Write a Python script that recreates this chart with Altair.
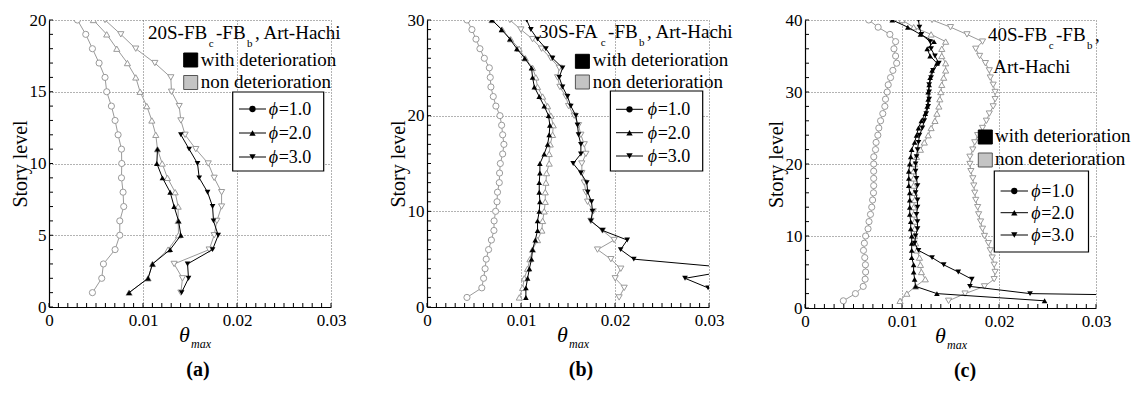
import altair as alt
import pandas as pd

FONT = "Liberation Serif"
GRAY = "#9a9a9a"

# ---- shared x axis (drift ratio) ----
x_labels = [0, 0.01, 0.02, 0.03]
x_minor = [round(i * 0.001, 3) for i in range(31)]
phi_names = ["1.0", "2.0", "3.0"]
phi_shapes = ["circle", "triangle-up", "triangle-down"]

# ---- (a) 20-story frame, values listed from story 1 upward ----
a_story = list(range(1, 21))
a_y_labels = [0, 5, 10, 15, 20]
a_y_minor = list(range(0, 21))
a_phi1 = [0.00462, 0.00561, 0.00579, 0.00703, 0.00753, 0.00753, 0.00795, 0.00788, 0.00771, 0.00774,
          0.00771, 0.00735, 0.00703, 0.00664, 0.00614, 0.00596, 0.00533, 0.00462, 0.00391, 0.00302]
a_phi2_non = [0.00852, 0.01054, 0.01101, 0.01267, 0.01378, 0.01374, 0.01374, 0.01342, 0.01260, 0.01204,
              0.01154, 0.01136, 0.01094, 0.01040, 0.00969, 0.00923, 0.00834, 0.00721, 0.00614, 0.00472]
a_phi2_det = [0.00852, 0.01054, 0.01101, 0.01289, 0.01403, 0.01378, 0.01331, 0.01289, 0.01207, 0.01147,
              0.01154]
a_phi3_non = [0.01403, 0.01420, 0.01331, 0.01704, 0.01757, 0.01786, 0.01836, 0.01836, 0.01757, 0.01694,
              0.01562, 0.01448, 0.01403, 0.01385, 0.01303, 0.01296, 0.01126, 0.00923, 0.00764, 0.00596]
a_phi3_det = [0.01410, 0.01484, 0.01474, 0.01740, 0.01800, 0.01750, 0.01740, 0.01687, 0.01598, 0.01580,
              0.01491, 0.01403]

# ---- (b) 30-story frame ----
b_story = list(range(1, 31))
b_y_labels = [0, 10, 20, 30]
b_y_minor = list(range(0, 31))
b_phi1 = [0.00425, 0.00583, 0.00602, 0.00618, 0.00630, 0.00655, 0.00685, 0.00712, 0.00714, 0.00730,
          0.00745, 0.00750, 0.00769, 0.00772, 0.00780, 0.00805, 0.00818, 0.00805, 0.00794, 0.00776,
          0.00733, 0.00705, 0.00680, 0.00673, 0.00663, 0.00610, 0.00563, 0.00521, 0.00478, 0.00425]
b_phi2_non = [0.00982, 0.01017, 0.01035, 0.01070, 0.01095, 0.01123, 0.01176, 0.01222, 0.01230, 0.01247,
              0.01258, 0.01258, 0.01265, 0.01272, 0.01300, 0.01300, 0.01311, 0.01336, 0.01343, 0.01318,
              0.01283, 0.01230, 0.01176, 0.01158, 0.01123, 0.01046, 0.00980, 0.00890, 0.00800, 0.00691]
b_phi2_det = [0.01052, 0.01052, 0.01070, 0.01089, 0.01112, 0.01123, 0.01152, 0.01176, 0.01176, 0.01194,
              0.01201, 0.01194, 0.01194, 0.01201, 0.01201, 0.01247, 0.01283, 0.01300, 0.01307, 0.01293,
              0.01247, 0.01194, 0.01142, 0.01123, 0.01112, 0.01040, 0.00956, 0.00882, 0.00794, 0.00691]
b_phi3_non = [0.02044, 0.02098, 0.02002, 0.02062, 0.01956, 0.01814, 0.01991, 0.01867, 0.01743, 0.01768,
              0.01708, 0.01690, 0.01673, 0.01648, 0.01647, 0.01690, 0.01673, 0.01637, 0.01612, 0.01566,
              0.01506, 0.01478, 0.01414, 0.01389, 0.01407, 0.01318, 0.01219, 0.01123, 0.00999, 0.00882]
b_phi3_det = [0.03400, 0.02990, 0.02745, 0.03340, 0.02200, 0.02060, 0.02130, 0.01867, 0.01743, 0.01761,
              0.01750, 0.01710, 0.01700, 0.01637, 0.01555, 0.01637, 0.01637, 0.01612, 0.01601, 0.01584,
              0.01530, 0.01495, 0.01442, 0.01407, 0.01442, 0.01336, 0.01265, 0.01176, 0.01105, 0.01060]

# ---- (c) 40-story frame ----
c_story = list(range(1, 41))
c_y_labels = [0, 10, 20, 30, 40]
c_y_minor = list(range(0, 41, 2))
c_phi1 = [0.00395, 0.00520, 0.00600, 0.00620, 0.00625, 0.00623, 0.00616, 0.00603, 0.00612, 0.00625,
          0.00650, 0.00660, 0.00675, 0.00688, 0.00697, 0.00706, 0.00708, 0.00708, 0.00708, 0.00708,
          0.00709, 0.00727, 0.00733, 0.00751, 0.00761, 0.00779, 0.00802, 0.00823, 0.00830, 0.00847,
          0.00858, 0.00882, 0.00906, 0.00945, 0.00934, 0.00917, 0.00934, 0.00875, 0.00754, 0.00657]
c_phi2_non = [0.00980, 0.01050, 0.01140, 0.01240, 0.01200, 0.01190, 0.01180, 0.01155, 0.01140, 0.01130,
              0.01130, 0.01130, 0.01120, 0.01120, 0.01130, 0.01130, 0.01120, 0.01120, 0.01120, 0.01130,
              0.01150, 0.01190, 0.01230, 0.01270, 0.01300, 0.01340, 0.01360, 0.01380, 0.01390, 0.01400,
              0.01410, 0.01430, 0.01450, 0.01450, 0.01410, 0.01410, 0.01450, 0.01300, 0.01120, 0.01000]
c_phi2_det = [0.02470, 0.01360, 0.01140, 0.01130, 0.01120, 0.01120, 0.01100, 0.01100, 0.01100, 0.01100,
              0.01090, 0.01090, 0.01080, 0.01080, 0.01080, 0.01080, 0.01070, 0.01070, 0.01070, 0.01080,
              0.01090, 0.01100, 0.01130, 0.01150, 0.01170, 0.01200, 0.01240, 0.01260, 0.01270, 0.01270,
              0.01280, 0.01290, 0.01310, 0.01360, 0.01290, 0.01260, 0.01330, 0.01190, 0.01060, 0.00900]
c_phi3_non = [0.01480, 0.01650, 0.01850, 0.01950, 0.01960, 0.01950, 0.01930, 0.01910, 0.01890, 0.01850,
              0.01830, 0.01810, 0.01790, 0.01780, 0.01760, 0.01750, 0.01740, 0.01730, 0.01710, 0.01700,
              0.01700, 0.01730, 0.01750, 0.01780, 0.01830, 0.01870, 0.01900, 0.01940, 0.01960, 0.01960,
              0.01940, 0.01910, 0.01900, 0.01860, 0.01800, 0.01760, 0.01830, 0.01670, 0.01500, 0.01310]
c_phi3_det = [0.07500, 0.02320, 0.01700, 0.01720, 0.01580, 0.01430, 0.01310, 0.01170, 0.01130, 0.01140,
              0.01160, 0.01160, 0.01150, 0.01160, 0.01160, 0.01140, 0.01160, 0.01150, 0.01140, 0.01140,
              0.01150, 0.01160, 0.01170, 0.01180, 0.01210, 0.01230, 0.01250, 0.01270, 0.01280, 0.01280,
              0.01280, 0.01300, 0.01320, 0.01380, 0.01340, 0.01300, 0.01290, 0.01200, 0.01180, 0.01170]


def long_table(stories, series):
    frames = []
    for phi, vals in series:
        frames.append(pd.DataFrame({"story": stories[:len(vals)], "theta": vals, "phi": phi}))
    return pd.concat(frames, ignore_index=True)


def text(s, x, y, size=19, style="normal", weight="normal", align="left"):
    return alt.Chart(pd.DataFrame({"txt": [s]})).mark_text(
        align=align, baseline="alphabetic", font=FONT, fontSize=size,
        fontStyle=style, fontWeight=weight, color="black",
    ).encode(text="txt:N", x=alt.value(x), y=alt.value(y))


def box(x1, x2, y1, y2, fill, stroke, sw=1):
    return alt.Chart(pd.DataFrame({"k": [0]})).mark_rect(
        fill=fill, stroke=stroke, strokeWidth=sw
    ).encode(x=alt.value(x1), x2=alt.value(x2), y=alt.value(y1), y2=alt.value(y2))


TIMES_W = {
    "0": .5, "1": .5, "2": .5, "3": .5, "4": .5, "S": .556, "-": .333, "F": .556, "B": .667,
    "A": .722, "c": .444, "b": .5, ",": .25, " ": .25, "r": .333, "t": .278, "H": .722,
    "a": .444, "h": .5, "i": .278,
}


def widths(s):
    return sum(TIMES_W.get(ch, .5) for ch in s)


def code_label(name_parts, x, y):
    # main text pieces with their subscripts, laid out left to right
    layers = []
    cx = x
    for part, sub in name_parts:
        size = 11 if sub else 19
        dy = 8 if sub else 0
        if sub:
            cx += 1.5
        layers.append(text(part, cx, y + dy, size=size))
        cx += widths(part) * size + (2.5 if sub else 0)
    return layers


def legend_block(bx1, bx2, by1, by2, rows, lx1, lx2, tx):
    layers = [box(bx1, bx2, by1, by2, "white", "black", 1.2)]
    for (name, shape), ry in zip(zip(phi_names, phi_shapes), rows):
        layers.append(alt.Chart(pd.DataFrame({"k": [0]})).mark_rule(color="black", strokeWidth=1).encode(
            x=alt.value(lx1), x2=alt.value(lx2), y=alt.value(ry)))
        layers.append(alt.Chart(pd.DataFrame({"k": [0]})).mark_point(
            shape=shape, filled=True, color="black", size=40, opacity=1).encode(
            x=alt.value((lx1 + lx2) / 2), y=alt.value(ry)))
        layers.append(text("\u03d5", tx, ry + 6, size=18, style="italic"))
        layers.append(text("=" + name, tx + 10, ry + 6, size=18))
    return layers


def panel(W, H, n, stories, y_labels, y_minor, non_series, det_series, extras, cap, cap_x):
    xs = alt.Scale(domain=[0, 0.03], nice=False, zero=False)
    ys = alt.Scale(domain=[0, n], nice=False, zero=False)
    shape_scale = alt.Scale(domain=phi_names, range=phi_shapes)

    x_axis = alt.Axis(values=x_labels, format="~g", grid=True, ticks=False, tickSize=0, labelFlush=False,
                      labelOverlap=False, labelPadding=5, title=None)
    y_axis = alt.Axis(values=y_labels, grid=True, ticks=False, tickSize=0, labelFlush=False,
                      labelOverlap=False, labelPadding=3, title="Story level", titlePadding=-1)

    non = long_table(stories, non_series)
    det = long_table(stories, det_series)

    def X(field):
        return alt.X(field, scale=xs, axis=x_axis)

    def Y(field):
        return alt.Y(field, scale=ys, axis=y_axis)

    xt = alt.Chart(pd.DataFrame({"t": x_minor})).mark_rule(color="black", strokeWidth=1).encode(
        x=X("t:Q"), y=alt.value(H), y2=alt.value(H - 4))
    yt = alt.Chart(pd.DataFrame({"s": y_minor})).mark_rule(color="black", strokeWidth=1).encode(
        y=Y("s:Q"), x=alt.value(0), x2=alt.value(4))

    g_line = alt.Chart(non).mark_line(color=GRAY, strokeWidth=1, clip=True).encode(
        x=X("theta:Q"), y=Y("story:Q"), detail="phi:N", order="story:Q")
    g_pt = alt.Chart(non).mark_point(fill="white", stroke=GRAY, filled=True, strokeWidth=1,
                                     size=38, opacity=1, clip=True).encode(
        x=X("theta:Q"), y=Y("story:Q"), shape=alt.Shape("phi:N", scale=shape_scale, legend=None))
    k_line = alt.Chart(det).mark_line(color="black", strokeWidth=1, clip=True).encode(
        x=X("theta:Q"), y=Y("story:Q"), detail="phi:N", order="story:Q")
    k_pt = alt.Chart(det).mark_point(filled=True, color="black", size=32, opacity=1, clip=True).encode(
        x=X("theta:Q"), y=Y("story:Q"), shape=alt.Shape("phi:N", scale=shape_scale, legend=None))

    axis_title = [text("\u03b8", 135.5, H + 35, size=22, style="italic", align="center"),
                  text("max", 142, H + 41, size=12, style="italic")]
    caption = [text(cap, cap_x, H + 69, size=20, weight="bold", align="center")]

    return alt.layer(g_line, g_pt, k_line, k_pt, xt, yt, *extras, *axis_title, *caption).properties(
        width=W, height=H)


# ---- (a) ----
extras_a = (
    code_label([("20S-FB", False), ("c", True), ("-FB", False), ("b", True), (", Art-Hachi", False)], 99, 19)
    + [box(134.7, 148.7, 33, 47, "black", "black"), box(134.7, 148.7, 55.5, 69.5, "#c4c4c4", "#555555"),
       text("with deterioration", 151.7, 45.5), text("non deterioration", 151.7, 67.5)]
    + legend_block(183.7, 274.7, 72, 151, [89, 113, 137], 190, 217, 219.7)
)
pa = panel(282, 287, 20, a_story, a_y_labels, a_y_minor,
           [("1.0", a_phi1), ("2.0", a_phi2_non), ("3.0", a_phi3_non)],
           [("2.0", a_phi2_det), ("3.0", a_phi3_det)], extras_a, "(a)", 149)

# ---- (b) ----
extras_b = (
    code_label([("30S-FA", False), ("c", True), ("-FB", False), ("b", True), (", Art-Hachi", False)], 112, 18)
    + [box(148.4, 162.4, 34.3, 48.3, "black", "black"), box(148.4, 162.4, 55, 69, "#c4c4c4", "#555555"),
       text("with deterioration", 165.7, 46), text("non deterioration", 165.7, 67.5)]
    + legend_block(183.4, 275.7, 71, 151, [89.3, 112.7, 136], 189, 216, 220.7)
)
pb = panel(282, 287, 30, b_story, b_y_labels, b_y_minor,
           [("1.0", b_phi1), ("2.0", b_phi2_non), ("3.0", b_phi3_non)],
           [("2.0", b_phi2_det), ("3.0", b_phi3_det)], extras_b, "(b)", 154)

# ---- (c) ----
extras_c = (
    code_label([("40S-FB", False), ("c", True), ("-FB", False), ("b", True), (",", False)], 183, 21)
    + [text("Art-Hachi", 188.3, 52.7),
       box(173.3, 187.3, 110, 124, "black", "black"), box(173.3, 187.3, 133, 147, "#c4c4c4", "#555555"),
       text("with deterioration", 190, 122), text("non deterioration", 190, 145)]
    + legend_block(189.3, 283.5, 151, 232, [171, 192.7, 215], 195.6, 223, 226.3)
)
pc = panel(291, 288, 40, c_story, c_y_labels, c_y_minor,
           [("1.0", c_phi1), ("2.0", c_phi2_non), ("3.0", c_phi3_non)],
           [("2.0", c_phi2_det), ("3.0", c_phi3_det)], extras_c, "(c)", 160)

chart = alt.hconcat(pa, pb, pc, spacing=96, bounds="flush").properties(
    padding={"left": 10, "top": 11, "right": 0, "bottom": 0}
).configure_view(stroke=None).configure_axis(
    labelFont=FONT, labelFontSize=17, labelColor="black",
    titleFont=FONT, titleFontSize=20, titleFontWeight="normal", titleColor="black",
    domainColor="black", domainWidth=1.2,
    gridColor="#555555", gridDash=[1, 2], gridWidth=0.9,
)

chart.save("out.html", embed_options={"renderer": "svg", "actions": False})
